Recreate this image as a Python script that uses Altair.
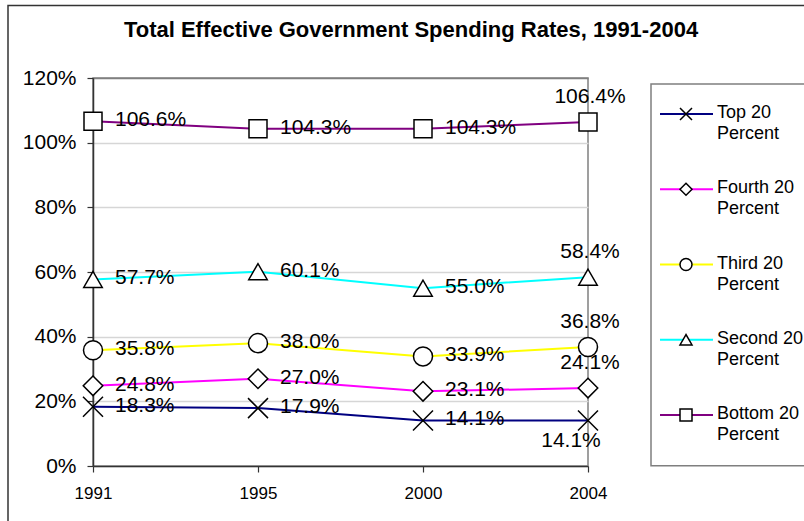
import altair as alt
import pandas as pd

# ---------------- data ----------------
title_text = "Total Effective Government Spending Rates, 1991-2004"
years = ["1991", "1995", "2000", "2004"]
series = ["Top 20 Percent", "Fourth 20 Percent", "Third 20 Percent",
          "Second 20 Percent", "Bottom 20 Percent"]
top_20 = [18.3, 17.9, 14.1, 14.1]
fourth_20 = [24.8, 27.0, 23.1, 24.1]
third_20 = [35.8, 38.0, 33.9, 36.8]
second_20 = [57.7, 60.1, 55.0, 58.4]
bottom_20 = [106.6, 104.3, 104.3, 106.4]
y_ticks = [0, 20, 40, 60, 80, 100, 120]

# ---------------- styles ----------------
colors = ["#000080", "#FF00FF", "#FFFF00", "#00FFFF", "#800080"]
shapes = ["M-1,-1L1,1M-1,1L1,-1", "diamond", "circle", "triangle-up", "square"]
sizes = [400, 324, 289, 400, 324]
FONT = "Liberation Sans"

rows = []
for name, vals in zip(series, [top_20, fourth_20, third_20, second_20, bottom_20]):
    for yr, v in zip(years, vals):
        rows.append({"series": name, "year": yr, "value": v})
df = pd.DataFrame(rows)

x_enc = alt.X(
    "year:O", sort=years,
    scale=alt.Scale(type="point", padding=0),
    axis=alt.Axis(title=None, labelAngle=0, labelFontSize=17, labelFont=FONT,
                  labelColor="black", tickSize=6, labelPadding=13, grid=False,
                  domainColor="#333333", tickColor="#333333", domainWidth=1.5,
                  tickWidth=1.2),
)
y_enc = alt.Y(
    "value:Q",
    scale=alt.Scale(domain=[0, 120], nice=False, zero=True),
    axis=alt.Axis(title=None, values=y_ticks, labelExpr="datum.value + '%'",
                  labelFontSize=21, labelFont=FONT, labelColor="black",
                  labelPadding=11, tickSize=6, grid=True,
                  gridColor={"condition": {"test": "datum.value >= 120", "value": "#808080"},
                             "value": "#d6d6d6"},
                  gridWidth=1.5, domainColor="#333333", tickColor="#333333",
                  domainWidth=1.5, tickWidth=1.2),
)
color_enc = alt.Color("series:N", scale=alt.Scale(domain=series, range=colors), legend=None)
shape_enc = alt.Shape("series:N", scale=alt.Scale(domain=series, range=shapes), legend=None)
size_enc = alt.Size("series:N", scale=alt.Scale(domain=series, range=sizes), legend=None)

base = alt.Chart(df).encode(x=x_enc, y=y_enc)

lines = base.mark_line(strokeWidth=2).encode(color=color_enc)
points = base.mark_point(filled=True, fill="white", stroke="black", strokeWidth=1.5,
                         opacity=1).encode(shape=shape_enc, size=size_enc)

lab = base.transform_calculate(label="format(datum.value, '.1f') + '%'")
right_labels = lab.transform_filter("datum.year != '2004'").mark_text(
    align="left", baseline="middle", dx=22, dy=-1, fontSize=21, font=FONT, color="black"
).encode(text="label:N")
above_labels = lab.transform_filter(
    "datum.year == '2004' && datum.series != 'Top 20 Percent'").mark_text(
    align="center", baseline="alphabetic", dx=2, dy=-19, fontSize=21, font=FONT, color="black"
).encode(text="label:N")
below_labels = lab.transform_filter(
    "datum.year == '2004' && datum.series == 'Top 20 Percent'").mark_text(
    align="center", baseline="top", dx=-17, dy=10, fontSize=21, font=FONT, color="black"
).encode(text="label:N")

data_layer = alt.layer(lines, points, right_labels, above_labels, below_labels)

# ---------------- legend ----------------
legend_df = pd.DataFrame({"series": series})
leg_y = alt.Y("series:N", sort=series,
              scale=alt.Scale(type="point", domain=series, range=[36, 337],
                              padding=0, paddingOuter=0),
              axis=None)
leg_base = alt.Chart(legend_df).encode(y=leg_y)
leg_line = leg_base.mark_rule(strokeWidth=2).encode(
    x=alt.value(567), x2=alt.value(620), color=color_enc)
leg_pt = leg_base.mark_point(filled=True, fill="white", stroke="black", strokeWidth=1.5,
                             opacity=1, size=144).encode(x=alt.value(593), shape=shape_enc)
leg_t1 = leg_base.transform_calculate(l1="replace(datum.series, ' Percent', '')").mark_text(
    align="left", baseline="middle", dy=-1, fontSize=18, font=FONT, color="black"
).encode(x=alt.value(624), text="l1:N")
leg_t2 = leg_base.transform_calculate(l2="'Percent'").mark_text(
    align="left", baseline="middle", dy=20, fontSize=18, font=FONT, color="black"
).encode(x=alt.value(624), text="l2:N")
legend_layer = alt.layer(leg_line, leg_pt, leg_t1, leg_t2)

# ---------------- frames and title ----------------
one = pd.DataFrame({"t": [title_text]})
outer_border = alt.Chart(one).mark_rect(
    fill="white", fillOpacity=0, stroke="#333333", strokeWidth=1.5
).encode(x=alt.value(-85), x2=alt.value(760), y=alt.value(-72.5), y2=alt.value(600))
legend_box = alt.Chart(one).mark_rect(
    fill="white", fillOpacity=0, stroke="#7f7f7f", strokeWidth=1.5
).encode(x=alt.value(558), x2=alt.value(760), y=alt.value(6), y2=alt.value(387.7))
title = alt.Chart(one).mark_text(
    align="center", baseline="alphabetic", fontSize=22, fontWeight="bold", font=FONT,
    color="black"
).encode(x=alt.value(318), y=alt.value(-41.3), text="t:N")

chart = alt.layer(
    outer_border, data_layer, legend_box, legend_layer, title
).resolve_scale(y="independent").properties(
    width=495, height=388,
    padding={"left": 93, "top": 78, "right": 216, "bottom": 55},
    autosize=alt.AutoSizeParams(type="none"),
    background="white",
).configure_view(stroke="#808080", strokeWidth=1.5)

chart.save("out.html", embed_options={"renderer": "svg", "actions": False})
